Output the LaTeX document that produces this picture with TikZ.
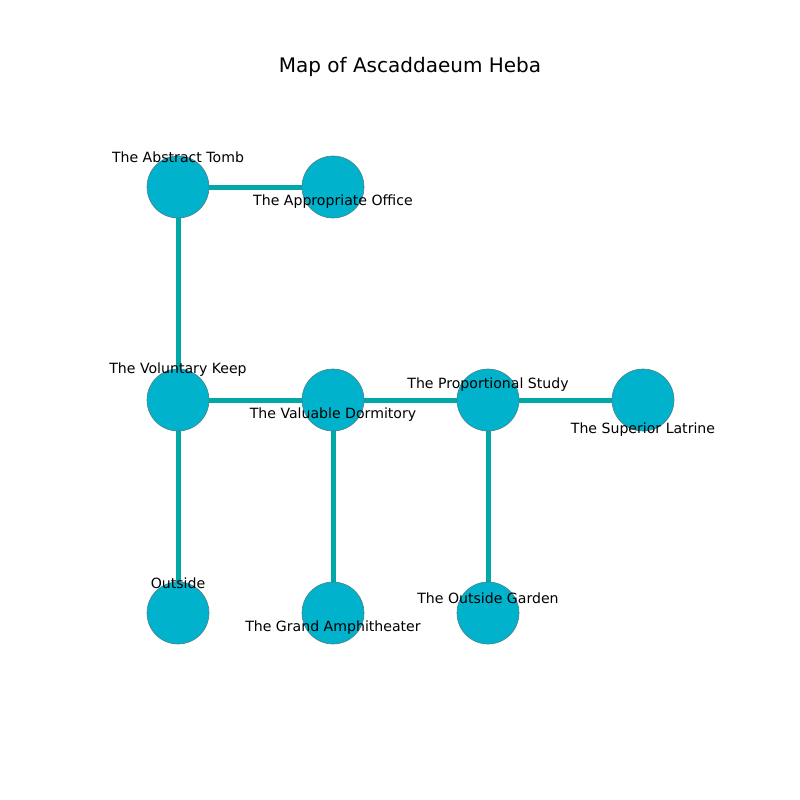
\documentclass[tikz,border=0pt]{standalone}
\usepackage{fontspec}
\setmainfont{DejaVu Sans}
\definecolor{nodefill}{HTML}{00B2CC}
\definecolor{edgecol}{HTML}{00A8A8}
\definecolor{rimcol}{HTML}{4A7F88}
\begin{document}
\begin{tikzpicture}[x=1pt,y=-1pt,
  room/.style={circle,fill=nodefill,draw=rimcol,line width=0.6pt,minimum size=62pt,inner sep=0pt},
  link/.style={edgecol,line width=5pt},
  lbl/.style={font=\fontsize{14.1}{16}\selectfont,inner sep=0pt,anchor=center}]
\useasboundingbox (0,0) rectangle (800,800);
\node[font=\fontsize{20}{24}\selectfont] (title) at (410,67) {Map of Ascaddaeum Heba};
\coordinate (pa) at (178,187);
\coordinate (pb) at (333,187);
\coordinate (pc) at (178,400);
\coordinate (pd) at (333,400);
\coordinate (pe) at (488,400);
\coordinate (pf) at (643,400);
\coordinate (pg) at (178,613);
\coordinate (ph) at (333,613);
\coordinate (pi) at (488,613);
\draw[link] (pa) -- (pb);
\draw[link] (pa) -- (pc);
\draw[link] (pc) -- (pd);
\draw[link] (pd) -- (pe);
\draw[link] (pe) -- (pf);
\draw[link] (pc) -- (pg);
\draw[link] (pd) -- (ph);
\draw[link] (pe) -- (pi);
\node[room] (a) at (pa) {};
\node[room] (b) at (pb) {};
\node[room] (c) at (pc) {};
\node[room] (d) at (pd) {};
\node[room] (e) at (pe) {};
\node[room] (f) at (pf) {};
\node[room] (g) at (pg) {};
\node[room] (h) at (ph) {};
\node[room] (i) at (pi) {};
\node[lbl] (la) at (178,157) {The Abstract Tomb};
\node[lbl] (lb) at (333,202) {The Appropriate Office};
\node[lbl] (lc) at (178,370) {The Voluntary Keep};
\node[lbl] (ld) at (333,415) {The Valuable Dormitory};
\node[lbl] (le) at (488,385) {The Proportional Study};
\node[lbl] (lf) at (643,430) {The Superior Latrine};
\node[lbl] (lg) at (178,583) {Outside};
\node[lbl] (lh) at (333,628) {The Grand Amphitheater};
\node[lbl] (li) at (488,598) {The Outside Garden};
\end{tikzpicture}
\end{document}
